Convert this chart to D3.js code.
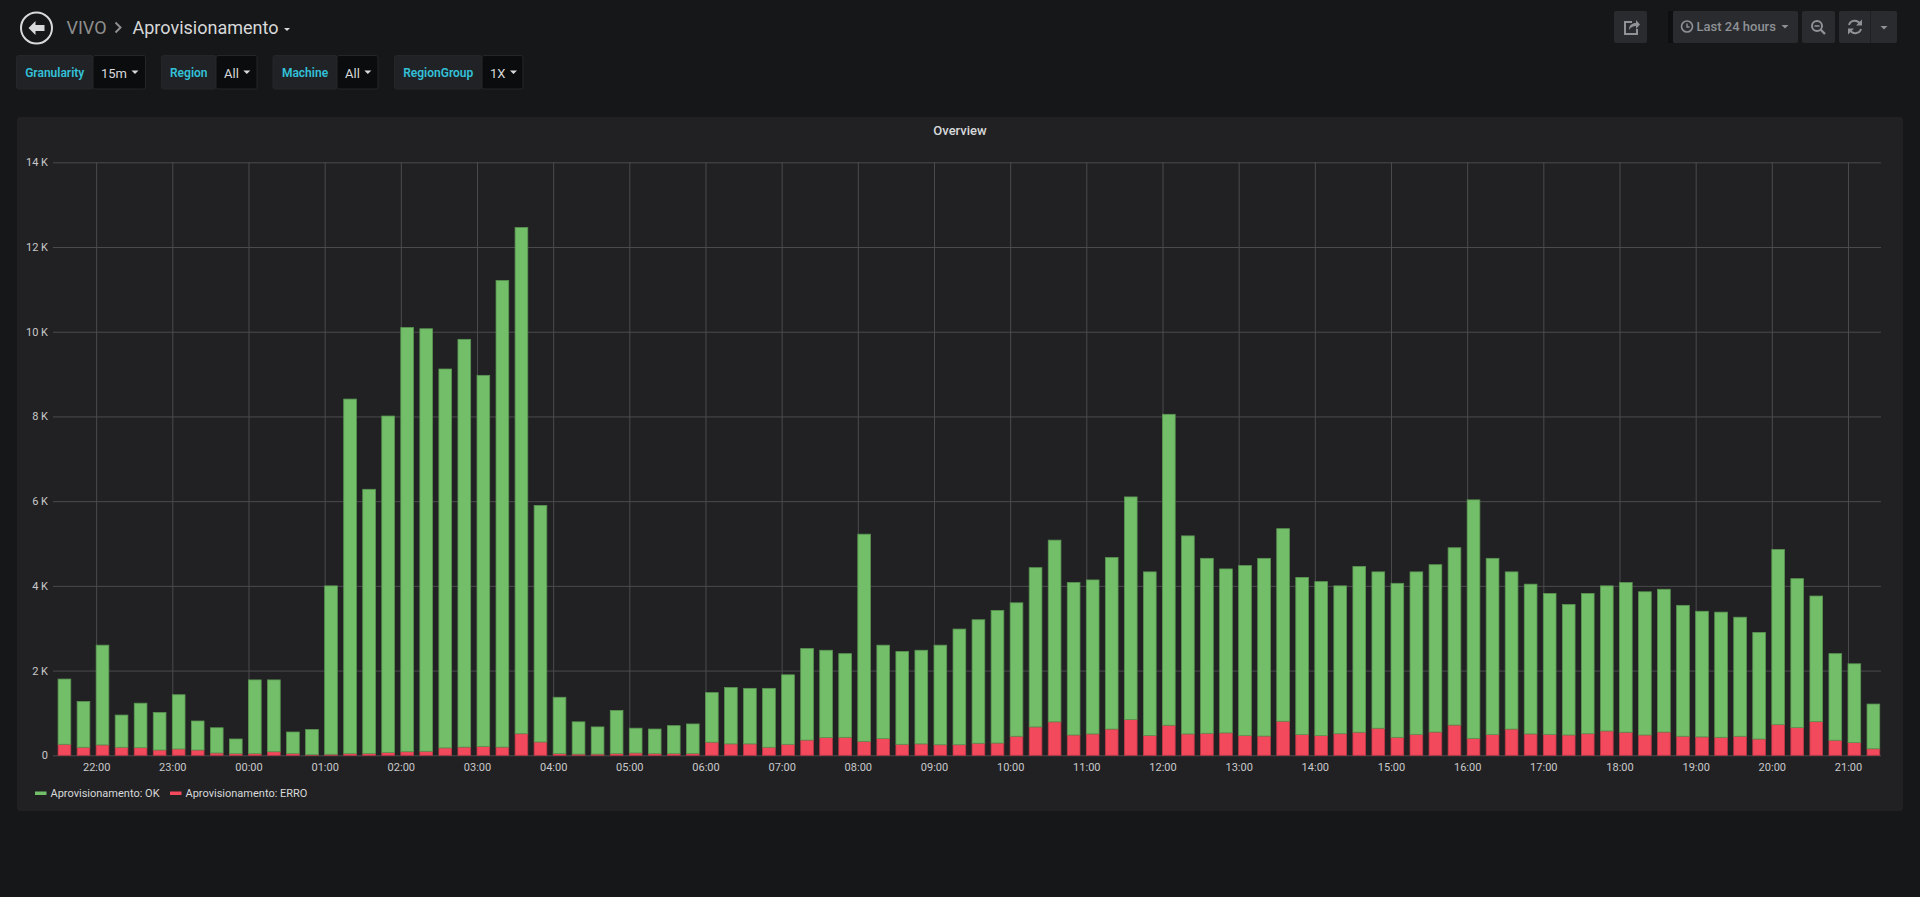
<!DOCTYPE html>
<html>
<head>
<meta charset="utf-8">
<script src="https://cdnjs.cloudflare.com/ajax/libs/d3/7.8.5/d3.min.js"></script>
<style>
  html, body { margin: 0; padding: 0; background: #161719; overflow: hidden; }
  svg { display: block; font-family: Roboto, "Noto Sans", sans-serif; }
</style>
</head>
<body>
<svg id="chart" width="1920" height="897"></svg>
<script>
// data: 15 minute buckets, 21:30 -> 21:15 next day
var okValues = [
  1540, 1080, 2355, 760, 1050, 885, 1280, 685, 595, 345, 1740, 1695,
  505, 595, 3975, 8370, 6235, 7945, 10015, 9975, 8945, 9625, 8760, 11015,
  11950, 5585, 1330, 760, 640, 1020, 585, 580, 660, 695, 1170, 1330,
  1310, 1390, 1640, 2160, 2060, 1975, 4890, 2205, 2190, 2210, 2350, 2730,
  2915, 3130, 3150, 3760, 4290, 3600, 3635, 4050, 5255, 3860, 7340, 4675,
  4130, 3870, 4015, 4195, 4545, 3710, 3635, 3490, 3915, 3690, 3635, 3835,
  3950, 4185, 5630, 4160, 3710, 3535, 3325, 3080, 3310, 3425, 3535, 3380,
  3370, 3090, 2965, 2955, 2810, 2515, 4135, 3515, 2965, 2045, 1860, 1055
];
var erroValues = [
  260, 190, 245, 190, 180, 125, 150, 125, 55, 40, 40, 85,
  45, 15, 25, 40, 45, 65, 85, 95, 175, 195, 210, 195,
  510, 315, 40, 30, 30, 40, 55, 40, 40, 45, 310, 270,
  270, 190, 260, 360, 420, 425, 330, 395, 260, 270, 250, 250,
  285, 290, 450, 670, 790, 480, 505, 620, 845, 470, 710, 505,
  520, 530, 465, 455, 805, 490, 465, 510, 545, 640, 425, 495,
  550, 715, 400, 490, 620, 505, 495, 480, 510, 575, 545, 480,
  550, 450, 435, 425, 450, 385, 725, 655, 795, 355, 300, 155
];
var seriesNames = ["Aprovisionamento: OK", "Aprovisionamento: ERRO"];
var seriesColors = ["#73BF69", "#F2495C"];
var yTicks = [0, 2000, 4000, 6000, 8000, 10000, 12000, 14000];
var variables = [
  {label: "Granularity", value: "15m"},
  {label: "Region", value: "All"},
  {label: "Machine", value: "All"},
  {label: "RegionGroup", value: "1X"}
];

var firstBucket = new Date(2020, 0, 1, 21, 30);
var rangeFrom = new Date(2020, 0, 1, 21, 26);
var rangeTo = d3.timeHour.offset(rangeFrom, 24);
var times = okValues.map(function (d, i) { return d3.timeMinute.offset(firstBucket, i * 15); });

var rows = times.map(function (t, i) {
  return {time: t, ok: okValues[i], erro: erroValues[i]};
});

var svg = d3.select("#chart");

// ---------- header ----------
var head = svg.append("g");
head.append("circle").attr("cx", 36.5).attr("cy", 28).attr("r", 15.5)
  .attr("fill", "none").attr("stroke", "#d8d9da").attr("stroke-width", 2);
head.append("path")
  .attr("d", "M28.5,28 L35.5,21 L35.5,25 L44.5,25 L44.5,31 L35.5,31 L35.5,35 Z")
  .attr("fill", "#d8d9da");
head.append("text").attr("x", 66.5).attr("y", 33.5).attr("fill", "#8e8e8e")
  .attr("font-size", 18).text("VIVO");
head.append("path").attr("d", "M115.5,22.5 L120.5,27.5 L115.5,32.5")
  .attr("fill", "none").attr("stroke", "#8e8e8e").attr("stroke-width", 2);
head.append("text").attr("x", 132.5).attr("y", 33.5).attr("fill", "#d8d9da")
  .attr("font-size", 18).text("Aprovisionamento");
head.append("path").attr("d", "M284,28 L290,28 L287,31 Z").attr("fill", "#d8d9da");

// ---------- variables ----------
var varBoxes = [[16.5, 93, 145.5], [161.5, 216, 257], [273, 337, 378], [394.5, 482, 523]];
var vg = svg.append("g");
variables.forEach(function (v, i) {
  var b = varBoxes[i];
  vg.append("rect").attr("x", b[0]).attr("y", 55.5).attr("width", b[1] - b[0]).attr("height", 33.5)
    .attr("rx", 2).attr("fill", "#202226").attr("stroke", "#262628");
  vg.append("rect").attr("x", b[1]).attr("y", 55.5).attr("width", b[2] - b[1]).attr("height", 33.5)
    .attr("rx", 2).attr("fill", "#0b0c0e").attr("stroke", "#262628");
  vg.append("text").attr("x", (b[0] + b[1]) / 2).attr("y", 77).attr("text-anchor", "middle")
    .attr("fill", "#33c1d8").attr("font-size", 12).attr("font-weight", 600).text(v.label);
  var tx = vg.append("text").attr("x", b[1] + 8).attr("y", 78).attr("fill", "#d8d9da")
    .attr("font-size", 13).text(v.value);
  var w = tx.node().getComputedTextLength();
  var cx = b[1] + 8 + w + 8;
  vg.append("path").attr("d", "M" + (cx - 3.5) + ",70.5 L" + (cx + 3.5) + ",70.5 L" + cx + ",74 Z")
    .attr("fill", "#d8d9da");
});

// ---------- toolbar ----------
var tb = svg.append("g");
var btnFill = "#2a2b2e", iconCol = "#8e9196";
function btn(x0, x1) {
  tb.append("rect").attr("x", x0).attr("y", 11).attr("width", x1 - x0).attr("height", 32)
    .attr("rx", 2).attr("fill", btnFill);
}
btn(1614, 1647);
tb.append("rect").attr("x", 1668).attr("y", 11).attr("width", 5).attr("height", 32).attr("fill", "#0e0f11");
btn(1673, 1798);
btn(1802, 1835);
btn(1839, 1897);
tb.append("line").attr("x1", 1870.5).attr("x2", 1870.5).attr("y1", 11).attr("y2", 43)
  .attr("stroke", "#1f2023");
// share icon
tb.append("path").attr("d", "M1632,22 L1625,22 L1625,34 L1637,34 L1637,29")
  .attr("fill", "none").attr("stroke", iconCol).attr("stroke-width", 2);
tb.append("path").attr("d", "M1629,30 C1629,25 1632,23 1636,23 L1636,20 L1640,24.5 L1636,29 L1636,26 C1633,26 1631,27 1629,30 Z")
  .attr("fill", iconCol);
// clock + label
tb.append("circle").attr("cx", 1687).attr("cy", 26.5).attr("r", 5.5).attr("fill", "none")
  .attr("stroke", iconCol).attr("stroke-width", 1.6);
tb.append("path").attr("d", "M1687,23.5 L1687,27 L1689.5,27").attr("fill", "none")
  .attr("stroke", iconCol).attr("stroke-width", 1.4);
tb.append("text").attr("x", 1696.5).attr("y", 31).attr("fill", iconCol).attr("font-size", 13)
  .attr("font-weight", 500).text("Last 24 hours");
tb.append("path").attr("d", "M1781.5,25 L1788.5,25 L1785,28.5 Z").attr("fill", iconCol);
// zoom out
tb.append("circle").attr("cx", 1817).attr("cy", 26).attr("r", 5).attr("fill", "none")
  .attr("stroke", iconCol).attr("stroke-width", 2);
tb.append("line").attr("x1", 1820.5).attr("y1", 29.5).attr("x2", 1825).attr("y2", 34)
  .attr("stroke", iconCol).attr("stroke-width", 2.4);
tb.append("line").attr("x1", 1814.5).attr("x2", 1819.5).attr("y1", 26).attr("y2", 26)
  .attr("stroke", iconCol).attr("stroke-width", 1.6);
// refresh
tb.append("path").attr("d", "M1849,25 A6,6 0 0 1 1860,24").attr("fill", "none")
  .attr("stroke", iconCol).attr("stroke-width", 2);
tb.append("path").attr("d", "M1861,29 A6,6 0 0 1 1850,30").attr("fill", "none")
  .attr("stroke", iconCol).attr("stroke-width", 2);
tb.append("path").attr("d", "M1862,19.5 L1862,25.5 L1856,25.5 Z").attr("fill", iconCol);
tb.append("path").attr("d", "M1848,34.5 L1848,28.5 L1854,28.5 Z").attr("fill", iconCol);
tb.append("path").attr("d", "M1880.5,26 L1887.5,26 L1884,29.5 Z").attr("fill", iconCol);

// ---------- panel ----------
svg.append("rect").attr("x", 17).attr("y", 117).attr("width", 1886).attr("height", 694)
  .attr("rx", 3).attr("fill", "#212124");
svg.append("text").attr("x", 960).attr("y", 135).attr("text-anchor", "middle")
  .attr("fill", "#d8d9da").attr("font-size", 13).attr("font-weight", 500).text("Overview");

var plot = {left: 53, right: 1881, top: 162.3, bottom: 755.3};
var x = d3.scaleTime().domain([rangeFrom, rangeTo]).range([plot.left, plot.right]);
var y = d3.scaleLinear().domain([0, 14000]).range([plot.bottom, plot.top]);

var xAxis = d3.axisBottom(x)
  .ticks(d3.timeHour.every(1))
  .tickFormat(d3.timeFormat("%H:%M"))
  .tickSizeInner(-(plot.bottom - plot.top))
  .tickSizeOuter(0)
  .tickPadding(8);
var yAxis = d3.axisLeft(y)
  .tickValues(yTicks)
  .tickFormat(function (d) { return d === 0 ? "0" : (d / 1000) + " K"; })
  .tickSizeInner(-(plot.right - plot.left))
  .tickSizeOuter(0)
  .tickPadding(5);

var gx = svg.append("g").attr("transform", "translate(0," + plot.bottom + ")").call(xAxis);
var gy = svg.append("g").attr("transform", "translate(" + plot.left + ",0)").call(yAxis);
[gx, gy].forEach(function (g) {
  g.select(".domain").remove();
  g.selectAll(".tick line").attr("stroke", "#4b4b4e").attr("stroke-width", 1);
  g.selectAll(".tick text").attr("fill", "#c8c9ca").attr("font-size", 11)
    .attr("font-family", "Roboto, sans-serif");
});
gx.selectAll(".tick text").attr("dy", "0.71em");

// stacked bars
var stack = d3.stack().keys(["erro", "ok"]);
var layers = stack(rows);
var slot = x(d3.timeMinute.offset(firstBucket, 15)) - x(firstBucket);
var barW = slot / 1.5;

svg.append("g").selectAll("g").data(layers).join("g")
  .attr("fill", function (d, i) { return seriesColors[1 - i]; })
  .attr("stroke", function (d, i) { return d3.color(seriesColors[1 - i]).darker(0.7); })
  .attr("stroke-width", 0.8)
  .selectAll("rect").data(function (d) { return d; }).join("rect")
  .attr("x", function (d) { return x(d.data.time); })
  .attr("y", function (d) { return y(d[1]); })
  .attr("width", barW)
  .attr("height", function (d) { return y(d[0]) - y(d[1]); });

// legend
var lg = svg.append("g");
var legendX = [35, 170];
seriesNames.forEach(function (n, i) {
  lg.append("rect").attr("x", legendX[i]).attr("y", 791.5).attr("width", 11.5).attr("height", 3.5)
    .attr("fill", seriesColors[i]);
  lg.append("text").attr("x", legendX[i] + 15.5).attr("y", 797).attr("fill", "#d8d9da")
    .attr("font-size", 11).text(n);
});
</script>
</body>
</html>
